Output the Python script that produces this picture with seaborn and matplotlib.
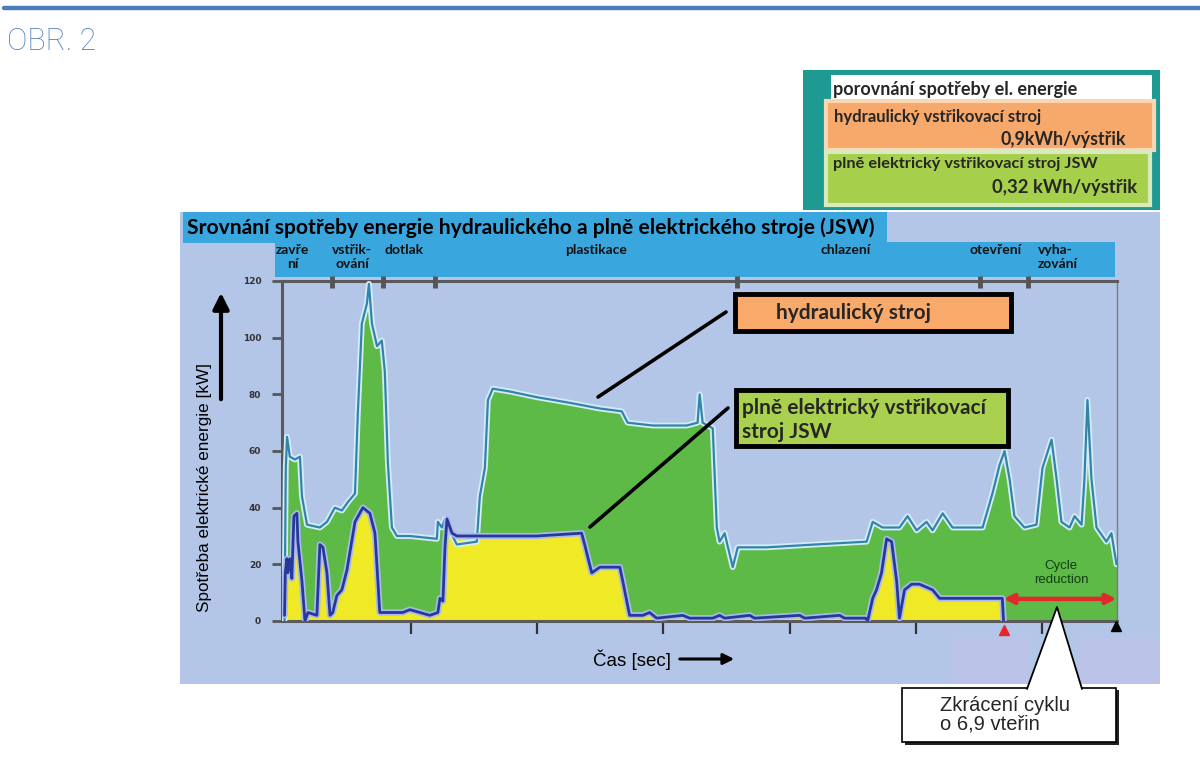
import numpy as np
import pandas as pd
import matplotlib
matplotlib.use("Agg")
import matplotlib.pyplot as plt
import seaborn as sns
from matplotlib.patches import Rectangle, Polygon, FancyArrowPatch
from matplotlib.lines import Line2D
import matplotlib.patheffects as pe

# ---------------- data ----------------
hyd_time = [0.0, 0.05, 0.1, 0.21, 0.41, 0.61, 0.69, 0.89, 1.40, 1.68, 1.99, 2.27, 2.51, 2.79, 2.90,
            3.06, 3.26, 3.34, 3.46, 3.66, 3.85, 3.97, 4.09, 4.25, 4.45, 4.96, 6.03, 6.07, 6.23, 6.35,
            6.54, 6.82, 7.61, 7.73, 7.93, 8.05, 8.24, 8.92, 9.98, 11.29, 12.48, 13.35, 13.58, 14.57,
            15.92, 16.35, 16.43, 16.55, 16.95, 17.11, 17.22, 17.42, 17.74, 17.94, 19.08, 21.0, 23.04,
            23.28, 23.67, 24.34, 24.66, 25.02, 25.41, 25.65, 26.05, 26.44, 27.63, 28.02, 28.30, 28.50,
            28.70, 28.89, 29.29, 29.76, 30.00, 30.36, 30.56, 30.75, 31.07, 31.27, 31.55, 31.66, 31.78,
            31.94, 32.14, 32.53, 32.73, 32.93]
hyd_kw = [0, 54, 65, 58, 57, 58, 44, 34, 33, 35, 40, 39, 42, 45, 73,
          105, 112, 119, 105, 97, 99, 88, 56, 33, 30, 30, 29, 35, 33, 36,
          32, 27, 28, 44, 54, 78, 82, 81, 79, 77, 75, 74, 70, 69,
          69, 70, 80, 70, 68, 33, 28, 31, 19, 26, 26, 27, 28,
          35, 33, 33, 37, 32, 35, 32, 38, 33, 33, 45, 55, 60,
          50, 37, 33, 34, 54, 64, 50, 35, 33, 37, 34, 50, 78,
          50, 33, 28, 31, 20]

el_time = [0.0, 0.03, 0.09, 0.13, 0.21, 0.29, 0.37, 0.49, 0.53, 0.69, 0.81, 0.93, 1.28, 1.40, 1.52,
           1.68, 1.80, 1.91, 2.07, 2.27, 2.47, 2.79, 3.10, 3.38, 3.58, 3.77, 4.68, 4.96, 5.36, 5.75,
           6.07, 6.15, 6.27, 6.35, 6.43, 6.63, 6.82, 9.98, 11.76, 11.88, 12.16, 12.48, 13.27, 13.39,
           13.66, 14.18, 14.45, 14.73, 15.76, 16.04, 16.95, 17.22, 17.42, 18.41, 18.61, 20.39, 20.59,
           21.97, 22.17, 23.00, 23.08, 23.28, 23.43, 23.63, 23.83, 24.03, 24.23, 24.34, 24.54, 24.82,
           25.13, 25.65, 25.93, 26.99, 28.41, 28.46]
el_kw = [2, 17, 22, 17, 22, 15, 37, 38, 28, 14, 0, 3, 2, 27, 26,
         17, 2, 3, 9, 11, 18, 35, 40, 38, 31, 3, 3, 4, 3, 2,
         3, 8, 7, 26, 36, 31, 30, 30, 31, 27, 17, 19, 19, 14,
         2, 2, 3, 1, 2, 1, 1, 2, 1, 2, 1, 2, 1,
         2, 1, 1, 0, 8, 11, 17, 29, 28, 14, 1, 11, 13,
         13, 11, 8, 8, 8, 0]

phase_bounds = [1.88, 3.89, 5.95, 17.90, 27.51, 29.41]
phase_labels = ["zavře\nní", "vstřik-\nování", "dotlak", "plastikace", "chlazení", "otevření", "vyha-\nzování"]
phase_label_x = [0.33, 2.67, 4.73, 12.32, 22.2, 28.14, 30.6]
phase_align = ["center", "center", "center", "center", "center", "center", "left"]

y_ticks = [0, 20, 40, 60, 80, 100, 120]
x_ticks = [5, 10, 15, 20, 25, 30]

cycle_start = 28.46
cycle_end = 32.93
cycle_arrow_kw = 7.8

title = "Srovnání spotřeby energie hydraulického a plně elektrického stroje (JSW)"
ylabel = "Spotřeba elektrické energie [kW]"
xlabel = "Čas [sec]"

# ---------------- style ----------------
sns.set_theme(style="white")
plt.rcParams["font.family"] = ["Lato", "DejaVu Sans"]

W, H = 1200, 772
fig = plt.figure(figsize=(12, 7.72), dpi=100)
fig.patch.set_facecolor("white")


def fx(px):
    return px / W


def fy(py):
    return 1 - py / H


def rect_px(x0, y0, x1, y1, **kw):
    r = Rectangle((fx(x0), fy(y1)), (x1 - x0) / W, (y1 - y0) / H,
                  transform=fig.transFigure, **kw)
    fig.add_artist(r)
    return r


PANEL = "#b4c6e7"
BANNER = "#3aa6de"
GREEN = "#5dba47"
YELLOW = "#efe926"
HYD_LINE = "#3384ab"
EL_LINE = "#26399a"

# header line and figure number
fig.add_artist(Line2D([fx(4), 1.0], [fy(8), fy(8)], transform=fig.transFigure,
                      color="#4a7ebb", lw=3.2))
fig.text(fx(7), fy(41), "OBR. 2", fontsize=22, color="#4f7fbf",
         family=["Roboto", "DejaVu Sans"], fontweight="light", va="center", ha="left")

# chart panel
rect_px(180, 212, 1160, 684, color=PANEL, lw=0, zorder=-5)
rect_px(952, 638, 1030, 684, color="#bcc3e8", lw=0, zorder=-4)
rect_px(1080, 638, 1160, 684, color="#bcc3e8", lw=0, zorder=-4)
rect_px(183, 212, 887, 243, color=BANNER, lw=0, zorder=-4)
rect_px(275, 242, 1115, 277, color=BANNER, lw=0, zorder=-4)
fig.text(fx(187), fy(228), title, fontsize=15.2, fontweight="bold", color="black",
         va="center", ha="left")

# ---------------- main axes ----------------
ax = fig.add_axes([fx(282), fy(621), (1117 - 282) / W, (621 - 281) / H])
ax.set_facecolor("none")
ax.set_xlim(-0.1, 32.95)
ax.set_ylim(0, 120)

ax.fill_between(hyd_time, hyd_kw, 0, color=GREEN, lw=0, zorder=1)
ax.fill_between(el_time, el_kw, 0, color=YELLOW, lw=0, zorder=2)

df_h = pd.DataFrame({"t": hyd_time, "kW": hyd_kw})
df_e = pd.DataFrame({"t": el_time, "kW": el_kw})
sns.lineplot(data=df_h, x="t", y="kW", ax=ax, color=HYD_LINE, lw=1.6, estimator=None,
             sort=False, zorder=3,
             path_effects=[pe.Stroke(linewidth=4.2, foreground="#d3ecf6"), pe.Normal()])
sns.lineplot(data=df_e, x="t", y="kW", ax=ax, color=EL_LINE, lw=2.0, estimator=None,
             sort=False, zorder=4,
             path_effects=[pe.Stroke(linewidth=4.5, foreground="#a9b9ea"), pe.Normal()])

ax.set_xlabel("")
ax.set_ylabel("")
ax.set_yticks(y_ticks)
ax.set_yticklabels([str(v) for v in y_ticks])
ax.set_xticks(x_ticks)
ax.set_xticklabels([])
ax.tick_params(axis="y", left=True, length=7, width=2, color="#555555", labelsize=6.5,
               pad=8, labelcolor="#333333")
ax.tick_params(axis="x", bottom=True, length=9, width=1.6, color="#333333", direction="out")
for lbl in ax.get_yticklabels():
    lbl.set_fontweight("bold")
    lbl.set_family("DejaVu Sans")
for s in ["left", "bottom", "top"]:
    ax.spines[s].set_color("#5a5a5a")
    ax.spines[s].set_linewidth(2.2)
ax.spines["right"].set_color("#7a7a7a")
ax.spines["right"].set_linewidth(1.0)

# phase boundaries and names
ax.vlines(phase_bounds, 117.5, 121.8, colors="#555555", lw=3.5, clip_on=False, zorder=6)
for x, lab, al in zip(phase_label_x, phase_labels, phase_align):
    ax.text(x, 133.0, lab, ha="center", va="top", multialignment=al, fontsize=10,
            fontweight="bold", color="#111111", linespacing=1.2, clip_on=False)

# cycle reduction
ax.annotate("", xy=(cycle_end, cycle_arrow_kw), xytext=(cycle_start, cycle_arrow_kw),
            arrowprops=dict(arrowstyle="<|-|>", color="#e0292b", lw=3.2, mutation_scale=14,
                            shrinkA=0, shrinkB=0), zorder=7)
ax.text((cycle_start + cycle_end) / 2 + 0.05, 17, "Cycle\nreduction", ha="center", va="center",
        fontsize=9.5, color="#123d12", family=["Liberation Sans", "DejaVu Sans"],
        linespacing=1.15, zorder=7)
ax.plot([cycle_start], [-3.0], marker="^", color="#e8262a", ms=7, clip_on=False, zorder=8)
ax.plot([cycle_end], [-1.8], marker="^", color="black", ms=7, clip_on=False, zorder=8)

# axis labels
fig.text(fx(204), fy(488), ylabel, rotation=90, ha="center", va="center", fontsize=12.3,
         family=["Liberation Sans", "DejaVu Sans"], color="black")
fig.add_artist(FancyArrowPatch((fx(221), fy(402)), (fx(221), fy(290)), transform=fig.transFigure,
                               arrowstyle="-|>", mutation_scale=24, lw=3, color="black"))
fig.text(fx(593), fy(660), xlabel, ha="left", va="center", fontsize=13.5,
         family=["Liberation Sans", "DejaVu Sans"], color="black")
fig.add_artist(FancyArrowPatch((fx(677), fy(659)), (fx(737), fy(659)), transform=fig.transFigure,
                               arrowstyle="-|>", mutation_scale=16, lw=2.2, color="black"))

# ---------------- inset comparison box ----------------
rect_px(803, 70, 1160, 210, color="#1f9a92", lw=0, zorder=2)
rect_px(831, 75, 1152, 105, color="white", lw=0, zorder=3)
rect_px(826, 101, 1154, 150, facecolor="#f7a86b", edgecolor="#fbd6b5", lw=3, zorder=3)
rect_px(826, 152, 1150, 205, facecolor="#a6cf4b", edgecolor="#d7ebbf", lw=3, zorder=3)
fig.text(fx(833), fy(89), "porovnání spotřeby el. energie", fontsize=13, fontweight="bold",
         va="center", ha="left", zorder=4)
fig.text(fx(834), fy(117), "hydraulický vstřikovací stroj", fontsize=12, fontweight="bold",
         va="center", ha="left", zorder=4)
fig.text(fx(1126), fy(140), "0,9kWh/výstřik", fontsize=12.8, fontweight="bold",
         va="center", ha="right", zorder=4)
fig.text(fx(833), fy(164), "plně elektrický vstřikovací stroj JSW", fontsize=11.8,
         fontweight="bold", va="center", ha="left", zorder=4)
fig.text(fx(1137), fy(188), "0,32 kWh/výstřik", fontsize=13.2, fontweight="bold",
         va="center", ha="right", zorder=4)

# ---------------- series labels ----------------
rect_px(735, 294, 1011, 331, facecolor="#f9a96a", edgecolor="black", lw=3.5, zorder=5)
fig.text(fx(776), fy(313), "hydraulický stroj", fontsize=15, fontweight="bold",
         va="center", ha="left", zorder=6)
rect_px(736, 390, 1008, 446, facecolor="#a9d04f", edgecolor="black", lw=3.5, zorder=5)
fig.text(fx(742), fy(420), "plně elektrický vstřikovací\nstroj JSW", fontsize=15,
         fontweight="bold", va="center", ha="left", linespacing=1.2, zorder=6)
fig.add_artist(Line2D([fx(598), fx(726)], [fy(397), fy(312)], transform=fig.transFigure,
                      color="black", lw=2.6, zorder=6))
fig.add_artist(Line2D([fx(590), fx(728)], [fy(527), fy(408)], transform=fig.transFigure,
                      color="black", lw=2.6, zorder=6))

# ---------------- callout ----------------
rect_px(905, 690, 1119, 745, color="#222222", lw=0, zorder=7)
rect_px(902, 688, 1116, 742, facecolor="white", edgecolor="black", lw=1.2, zorder=8)
tri = [(fx(1027), fy(689)), (fx(1057), fy(607)), (fx(1082), fy(689))]
fig.add_artist(Polygon(tri, closed=True, transform=fig.transFigure, facecolor="white",
                       edgecolor="none", zorder=9))
fig.add_artist(Line2D([tri[0][0], tri[1][0], tri[2][0]], [tri[0][1], tri[1][1], tri[2][1]],
                      transform=fig.transFigure, color="black", lw=1.3, zorder=10))
fig.text(fx(940), fy(715), "Zkrácení cyklu\no 6,9 vteřin", fontsize=14.5, ha="left", va="center",
         family=["Liberation Sans", "DejaVu Sans"], linespacing=1.0, zorder=11)

fig.savefig("out.png", dpi=100)
